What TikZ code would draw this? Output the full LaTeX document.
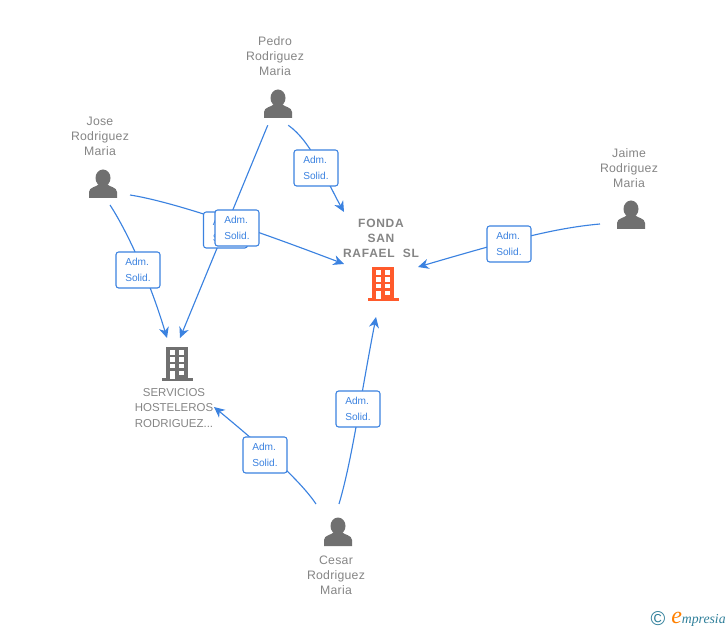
\documentclass[tikz,border=0pt]{standalone}
\usepackage{xcolor}
\usepackage{fontspec}
\setmainfont{Liberation Sans}
\newfontfamily\logofont{Liberation Serif}
\usetikzlibrary{arrows.meta,positioning,calc}
\definecolor{linkblue}{HTML}{3B82E0}
\definecolor{icongray}{HTML}{707070}
\definecolor{textgray}{HTML}{858585}
\definecolor{fondaorange}{HTML}{FF5A2B}
\definecolor{logoteal}{HTML}{2F7F9A}
\tikzset{
person/.style={minimum width=15pt,minimum height=31.5pt,inner sep=0pt},
link/.style={draw=linkblue,line width=0.85pt,-{Stealth[length=8pt,width=7.5pt,inset=2.5pt]}},
lbl/.style={draw=linkblue,fill=white,line width=0.8pt,rounded corners=2pt,minimum width=33pt,minimum height=27pt,
  inner sep=0pt,text=linkblue,font=\fontsize{7.6pt}{12pt}\selectfont,align=left},
pname/.style={text=textgray,font=\addfontfeature{LetterSpace=2}\fontsize{9.2pt}{11.3pt}\selectfont,align=center,inner sep=0pt},
comp/.style={text=textgray,font=\fontsize{8.6pt}{11.3pt}\selectfont,align=center,inner sep=0pt}
}
% head and shoulders, #1 centre
\newcommand{\personicon}[1]{
\begin{scope}[shift={(#1)}]
\fill[icongray] (0,-6) ellipse [x radius=7.5,y radius=8.5];
\fill[icongray] (-14,14) -- (-14,8) .. controls (-14,3) and (-6,3) .. (-4,0) -- (4,0) .. controls (6,3) and (14,3) .. (14,8) -- (14,14) -- cycle;
\end{scope}}
% office block, #1 colour, #2 centre
\newcommand{\officeblock}[2]{
\begin{scope}[shift={(#2)}]
\fill[#1] (-15.5,17) rectangle (15.5,14.5);
\fill[#1] (-11,-17) rectangle (11,15);
\foreach \bx in {-7.5,2} {
\fill[white] (\bx,-14) rectangle ++(5,5);
\fill[white] (\bx,-7) rectangle ++(5,5);
\fill[white] (\bx,0.5) rectangle ++(5,4);}
\fill[white] (2,7) rectangle ++(5,4);
\fill[white] (-7.5,7) rectangle ++(5,8);
\end{scope}}
\begin{document}
\begin{tikzpicture}[x=0.75pt,y=-0.75pt]
\useasboundingbox (0,0) rectangle (728,630);
% people
\node [person] (pedro) at (278,104) {};
\node [person] (jose) at (103,184) {};
\node [person] (jaime) at (631,215) {};
\node [person] (cesar) at (338,532) {};
\personicon{278,104}
\personicon{103,184}
\personicon{631,215}
\personicon{338,532}
\node [pname] (pedroname) at (275,56) {Pedro\\Rodriguez\\Maria};
\node [pname] (josename) at (100,136) {Jose\\Rodriguez\\Maria};
\node [pname] (jaimename) at (629,168) {Jaime\\Rodriguez\\Maria};
\node [pname] (cesarname) at (336,575) {Cesar\\Rodriguez\\Maria};
% companies
\officeblock{fondaorange}{383,284}
\officeblock{icongray}{177,364}
\coordinate (fondaN) at (344,212);
\coordinate (fondaW) at (344,264);
\coordinate (fondaE) at (418,267);
\coordinate (fondaS) at (376,317);
\coordinate (servN) at (180,338);
\coordinate (servNW) at (167,338);
\coordinate (servE) at (214,407);
\coordinate (joseE) at (130,195);
\coordinate (joseS) at (110,205);
\coordinate (jaimeW) at (600,224);
\coordinate (cesarNW) at (316,504);
\coordinate (cesarN) at (339,504);
\node [comp,font=\addfontfeature{LetterSpace=6}\fontsize{9pt}{11.3pt}\selectfont\bfseries] (fondaname) at (381,238) {FONDA\\SAN\\RAFAEL\ \ SL};
\node [comp] (servname) at (174,408) {SERVICIOS\\HOSTELEROS\\RODRIGUEZ...};
% connectors
\draw[link] (pedro.south east) .. controls (312,142) and (326,180) .. (fondaN);
\draw[link] (pedro.south west) -- (servN);
\draw[link] (joseE) .. controls (175,202) and (260,232) .. (fondaW);
\draw[link] (joseS) .. controls (125,228) and (148,275) .. (servNW);
\draw[link] (jaimeW) .. controls (555,228) and (510,240) .. (fondaE);
\draw[link] (cesarN) .. controls (352,460) and (360,400) .. (fondaS);
\draw[link] (cesarNW) .. controls (300,480) and (260,445) .. (servE);
% labels
\node [lbl] (adm1) at (316,168) {Adm.\\Solid.};
\node [lbl] (adm2) at (225.5,230) {Adm.\\Solid.};
\node [lbl] (adm3) at (237,228) {Adm.\\Solid.};
\node [lbl] (adm4) at (138,270) {Adm.\\Solid.};
\node [lbl] (adm5) at (509,244) {Adm.\\Solid.};
\node [lbl] (adm6) at (358,409) {Adm.\\Solid.};
\node [lbl] (adm7) at (265,455) {Adm.\\Solid.};
% logo
\node [inner sep=0pt,text=logoteal,font=\fontsize{15pt}{15pt}\selectfont] (logoc) at (658,619) {\textcopyright};
\node [inner sep=0pt,anchor=west,font=\logofont\itshape\fontsize{10.3pt}{11pt}\selectfont,text=logoteal] (logotext) at (671,619)
{{\color{orange}\fontsize{18pt}{18pt}\selectfont e}mpresia};
\end{tikzpicture}
\end{document}
